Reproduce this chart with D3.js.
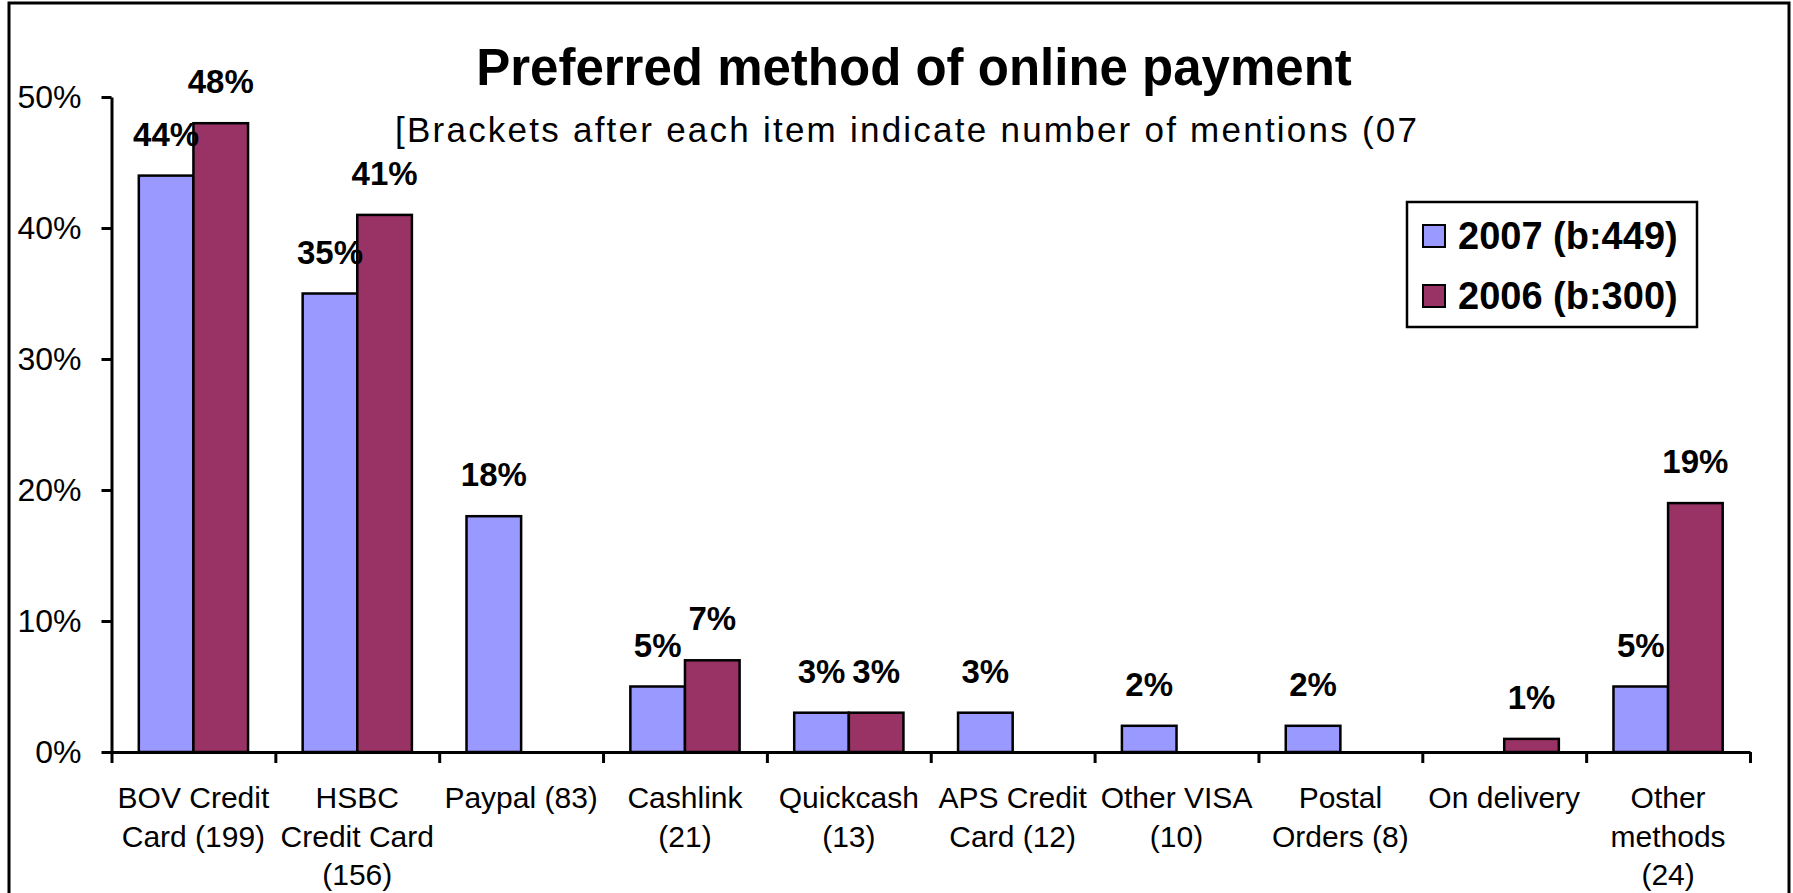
<!DOCTYPE html>
<html>
<head>
<meta charset="utf-8">
<script src="https://cdn.jsdelivr.net/npm/d3@7"></script>
<style>
  body { margin: 0; background: #fff; }
  svg { display: block; }
</style>
</head>
<body>
<svg id="chart"></svg>
<script>
const categories = ['BOV Credit Card (199)', 'HSBC Credit Card (156)', 'Paypal (83)', 'Cashlink (21)', 'Quickcash (13)', 'APS Credit Card (12)', 'Other VISA (10)', 'Postal Orders (8)', 'On delivery', 'Other methods (24)']
// how each category name is broken under the axis
const categoryLines = [
  ['BOV Credit', 'Card (199)'],
  ['HSBC', 'Credit Card', '(156)'],
  ['Paypal (83)'],
  ['Cashlink', '(21)'],
  ['Quickcash', '(13)'],
  ['APS Credit', 'Card (12)'],
  ['Other VISA', '(10)'],
  ['Postal', 'Orders (8)'],
  ['On delivery'],
  ['Other', 'methods', '(24)']
]
const values2007 = [44, 35, 18, 5, 3, 3, 2, 2, null, 5]
const values2006 = [48, 41, null, 7, 3, null, null, null, 1, 19]
const seriesNames = ['2007 (b:449)', '2006 (b:300)']
const yTicks = [0, 10, 20, 30, 40, 50]

const titleText = 'Preferred method of online payment'
const subtitleText = '[Brackets after each item indicate number of mentions (07'

const colors = ['#9999ff', '#993366']
const fontFamily = '"Liberation Sans", Arial, Helvetica, sans-serif'

const svg = d3.select('#chart')
  .attr('width', 1793)
  .attr('height', 893)
  .style('font-family', fontFamily)

const x = d3.scaleBand().domain(categories).range([111.5, 1750])
const xInner = d3.scaleBand().domain(seriesNames).range([0, x.bandwidth()]).paddingOuter(0.5)
const xEdges = d3.scaleLinear().domain([0, categories.length]).range(x.range())
const y = d3.scaleLinear().domain([0, 50]).range([752, 97])

const rows = categories.map((c, i) => [
  { cat: c, series: seriesNames[0], idx: 0, value: values2007[i] },
  { cat: c, series: seriesNames[1], idx: 1, value: values2006[i] }
].filter(d => d.value !== null))

// draw outer border
svg.append('rect')
  .attr('x', 9)
  .attr('y', 3)
  .attr('width', 1780)
  .attr('height', 1000)
  .style('fill', 'none')
  .style('stroke', 'black')
  .style('stroke-width', 3)

// draw title
svg.append('text')
  .attr('x', 914)
  .attr('y', 85)
  .attr('text-anchor', 'middle')
  .style('font-size', '51px')
  .style('font-weight', 'bold')
  .text(titleText)

svg.append('text')
  .attr('x', 395)
  .attr('y', 142)
  .attr('textLength', 1022)
  .attr('lengthAdjust', 'spacing')
  .style('font-size', '35px')
  .text(subtitleText)

// plot bars
const groups = svg.selectAll('.cat').data(rows).enter().append('g')
  .attr('class', 'cat')

groups.selectAll('rect').data(d => d).enter().append('rect')
  .attr('x', d => x(d.cat) + xInner(d.series))
  .attr('y', d => y(d.value))
  .attr('width', xInner.bandwidth())
  .attr('height', d => y(0) - y(d.value))
  .style('fill', d => colors[d.idx])
  .style('stroke', 'black')
  .style('stroke-width', 2.5)

// y axis
const yAxis = svg.append('g')
  .attr('transform', `translate(${x.range()[0]},0)`)
  .call(d3.axisLeft(y).tickValues(yTicks).tickFormat(d => d + '%').tickSize(10).tickSizeOuter(0).tickPadding(20))
yAxis.select('.domain').style('stroke-width', 3)
yAxis.selectAll('.tick line').style('stroke-width', 3)
yAxis.selectAll('.tick text')
  .style('font-size', '32px')
  .style('font-family', fontFamily)
  .attr('fill', 'black')

// x axis with ticks between the categories
const xAxis = svg.append('g')
  .attr('transform', `translate(0,${y(0)})`)
  .call(d3.axisBottom(xEdges).ticks(categories.length).tickFormat('').tickSize(11).tickSizeOuter(0))
xAxis.select('.domain').style('stroke-width', 3)
xAxis.selectAll('.tick line').style('stroke-width', 3)

// category labels
svg.selectAll('.cat-label').data(categories).enter().append('text')
  .attr('class', 'cat-label')
  .attr('text-anchor', 'middle')
  .style('font-size', '30px')
  .each(function (c, i) {
    d3.select(this).selectAll('tspan').data(categoryLines[i]).enter().append('tspan')
      .attr('x', x(c) + x.bandwidth() / 2)
      .attr('y', (d, j) => 808 + j * 38.5)
      .text(d => d)
  })

// value labels
groups.selectAll('.val').data(d => d).enter().append('text')
  .attr('class', 'val')
  .attr('x', d => x(d.cat) + xInner(d.series) + xInner.bandwidth() / 2)
  .attr('y', d => y(d.value) - 30)
  .attr('text-anchor', 'middle')
  .style('font-size', '33px')
  .style('font-weight', 'bold')
  .text(d => d.value + '%')

// legend
const legend = svg.append('g')
legend.append('rect')
  .attr('x', 1407)
  .attr('y', 202)
  .attr('width', 290)
  .attr('height', 125)
  .style('fill', 'white')
  .style('stroke', 'black')
  .style('stroke-width', 2.5)
const items = legend.selectAll('.item').data(seriesNames).enter().append('g')
  .attr('class', 'item')
  .attr('transform', (d, i) => `translate(1423,${225 + i * 60})`)
items.append('rect')
  .attr('width', 22)
  .attr('height', 22)
  .style('fill', (d, i) => colors[i])
  .style('stroke', 'black')
  .style('stroke-width', 2)
items.append('text')
  .attr('x', 35)
  .attr('y', 24)
  .style('font-size', '38px')
  .style('font-weight', 'bold')
  .text(d => d)
</script>
</body>
</html>
